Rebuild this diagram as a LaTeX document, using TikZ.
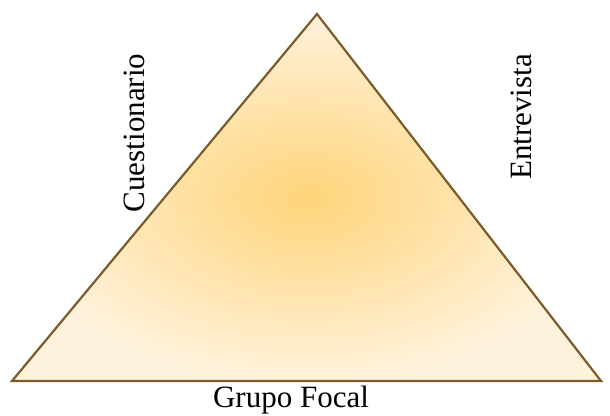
\documentclass[tikz,border=0pt]{standalone}
\usepackage{fontspec}
\setmainfont{Liberation Serif}
\usepackage{xcolor}
\definecolor{edgebrown}{HTML}{7A5C28}
\definecolor{coreyellow}{HTML}{FFD47A}
\definecolor{rimcream}{HTML}{FFF2DC}

\begin{document}
\begin{tikzpicture}[x=1pt,y=-1pt]
\tikzset{lbl/.style={font=\fontsize{31}{31}\selectfont, inner sep=0pt}}
\useasboundingbox (0,0) rectangle (610,415);
\coordinate (top) at (317,14);
\coordinate (left) at (12,381);
\coordinate (right) at (601,381);
\shade[inner color=coreyellow, outer color=rimcream] (top) -- (left) -- (right) -- cycle;
\draw[edgebrown, line width=2.2pt, line join=miter] (top) -- (left) -- (right) -- cycle;
\node[lbl, rotate=90] (cuest) at (134,133) {Cuestionario};
\node[lbl, rotate=90] (entrev) at (521,117) {Entrevista};
\node[lbl] (grupo) at (291,400) {Grupo Focal};
\end{tikzpicture}
\end{document}
